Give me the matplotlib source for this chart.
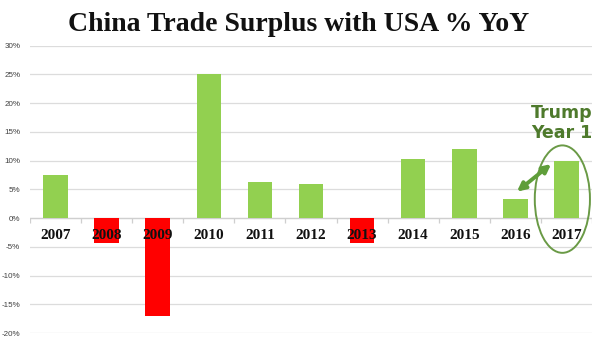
import matplotlib
matplotlib.use("Agg")
import matplotlib.pyplot as plt
from matplotlib.patches import Ellipse
import numpy as np

# Chart data
years = ["2007", "2008", "2009", "2010", "2011", "2012", "2013", "2014", "2015", "2016", "2017"]
surplus_yoy = [7.5, -4.3, -17.0, 25.0, 6.3, 6.0, -4.3, 10.2, 12.0, 3.4, 10.0]
y_ticks = [-20, -15, -10, -5, 0, 5, 10, 15, 20, 25, 30]
y_tick_labels = [f"{v}%" for v in y_ticks]
title = "China Trade Surplus with USA % YoY"
callout = ["Trump", "Year 1"]

GREEN = "#92D050"
RED = "#FF0000"
DARK_GREEN = "#4E7A2C"
ARROW_GREEN = "#5F9E3A"

fig = plt.figure(figsize=(6.0, 3.38), dpi=100)
fig.patch.set_facecolor("white")
ax = fig.add_axes([30 / 600, 5 / 338, 562 / 600, 287.3 / 338])

x = np.arange(len(years))
colors = [GREEN if v >= 0 else RED for v in surplus_yoy]
ax.bar(x, surplus_yoy, width=0.48, color=colors, zorder=2)

ax.set_xlim(-0.5, len(years) - 0.5)
ax.set_ylim(y_ticks[0], y_ticks[-1])
ax.set_yticks(y_ticks)
ax.set_yticklabels(y_tick_labels, fontsize=5.8, color="#404040",
                   family="Liberation Sans")
ax.tick_params(axis="y", length=0, pad=7)
ax.set_xticks([])
ax.grid(axis="y", color="#dcdcdc", lw=0.9, zorder=0)
ax.set_axisbelow(True)
for s in ax.spines.values():
    s.set_visible(False)

# Zero baseline with small category separators
ax.axhline(0, color="#cfcfcf", lw=0.9, zorder=1)
bounds = np.arange(len(years) + 1) - 0.5
ax.vlines(bounds, -0.9, 0, color="#cfcfcf", lw=0.9, zorder=1)

# Year labels sit just under the zero line, over the negative bars
for xi, yr in zip(x, years):
    ax.text(xi, -3.1, yr, ha="center", va="center", fontsize=11,
            family="Liberation Serif", fontweight="bold", color="#111111",
            zorder=4)

# Highlight for the latest year
last = len(years) - 1
ax.add_patch(Ellipse((last - 0.08, 3.3), 1.08, 18.7, fill=False,
                     edgecolor="#6A9A46", lw=1.4, zorder=5, clip_on=False))
ax.annotate("", xy=(last - 0.3, 9.4), xytext=(last - 0.97, 4.6),
            arrowprops=dict(arrowstyle="<|-|>", color=ARROW_GREEN, lw=2.8,
                            mutation_scale=12, shrinkA=0, shrinkB=0),
            zorder=5)
ax.text(last - 0.1, 17.5, callout[0], ha="center", va="baseline",
        fontsize=12.5, fontweight="bold", color=DARK_GREEN,
        family="DejaVu Sans", zorder=5)
ax.text(last - 0.1, 14.0, callout[1], ha="center", va="baseline",
        fontsize=12.5, fontweight="bold", color=DARK_GREEN,
        family="DejaVu Sans", zorder=5)

fig.text(0.497, 1 - 30.6 / 338, title, ha="center", va="baseline",
         fontsize=20, fontweight="bold", family="Liberation Serif",
         color="#111111")

fig.savefig("out.png", dpi=100, facecolor="white")
